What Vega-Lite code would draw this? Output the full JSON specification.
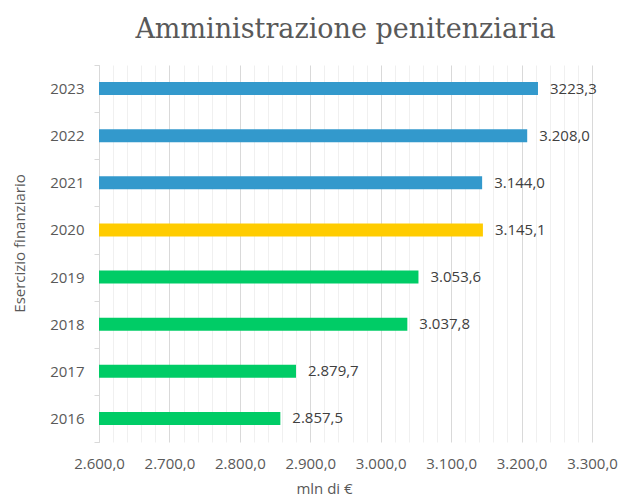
{
  "$schema": "https://vega.github.io/schema/vega-lite/v6.json",
  "width": 493,
  "height": 377,
  "autosize": "none",
  "padding": {"left": 99, "top": 65, "right": 27, "bottom": 60},
  "background": "white",
  "config": {
    "locale": {"number": {"decimal": ",", "thousands": ".", "grouping": [3], "currency": ["", " €"]}},
    "view": {"stroke": null},
    "font": "Open Sans"
  },
  "title": {
    "text": "Amministrazione penitenziaria",
    "font": "DejaVu Serif",
    "fontSize": 27,
    "fontWeight": "normal",
    "color": "#595959",
    "offset": 14,
    "anchor": "middle"
  },
  "data": {
    "values": [
      {"anno": "2016", "valore": 2857.5, "label": "2.857,5", "gruppo": "a"},
      {"anno": "2017", "valore": 2879.7, "label": "2.879,7", "gruppo": "a"},
      {"anno": "2018", "valore": 3037.8, "label": "3.037,8", "gruppo": "a"},
      {"anno": "2019", "valore": 3053.6, "label": "3.053,6", "gruppo": "a"},
      {"anno": "2020", "valore": 3145.1, "label": "3.145,1", "gruppo": "b"},
      {"anno": "2021", "valore": 3144.0, "label": "3.144,0", "gruppo": "c"},
      {"anno": "2022", "valore": 3208.0, "label": "3.208,0", "gruppo": "c"},
      {"anno": "2023", "valore": 3223.3, "label": "3223,3", "gruppo": "c"}
    ]
  },
  "encoding": {
    "y": {
      "field": "anno",
      "type": "ordinal",
      "sort": "descending",
      "scale": {"paddingInner": 0, "paddingOuter": 0},
      "axis": {
        "title": "Esercizio finanziario",
        "titleFont": "Open Sans",
        "titleFontSize": 15,
        "titleFontWeight": "normal",
        "titleColor": "#595959",
        "titlePadding": 22,
        "titleY": 178,
        "labelFont": "Open Sans",
        "labelFontSize": 15,
        "labelColor": "#595959",
        "labelPadding": 10,
        "tickSize": 5,
        "tickBand": "extent",
        "tickColor": "#d9d9d9",
        "domainColor": "#d9d9d9",
        "grid": false
      }
    },
    "x": {
      "field": "valore",
      "type": "quantitative",
      "scale": {"domain": [2600, 3300], "nice": false, "zero": false},
      "axis": {
        "title": "mln di €",
        "titleFont": "Open Sans",
        "titleFontSize": 15,
        "titleFontWeight": "normal",
        "titleColor": "#595959",
        "titlePadding": 10,
        "titleX": 225,
        "values": [2600, 2620, 2640, 2660, 2680, 2700, 2720, 2740, 2760, 2780, 2800, 2820, 2840, 2860, 2880, 2900, 2920, 2940, 2960, 2980, 3000, 3020, 3040, 3060, 3080, 3100, 3120, 3140, 3160, 3180, 3200, 3220, 3240, 3260, 3280, 3300],
        "labelExpr": "datum.value % 100 === 0 ? format(datum.value, ',.1f') : ''",
        "labelOverlap": false,
        "labelFlush": false,
        "labelFont": "Open Sans",
        "labelFontSize": 15,
        "labelColor": "#595959",
        "labelPadding": 14,
        "ticks": false,
        "domain": false,
        "grid": true,
        "gridColor": {"condition": {"test": "datum.value % 100 === 0", "value": "#d9d9d9"}, "value": "#f0f0f0"}
      }
    }
  },
  "layer": [
    {
      "mark": {"type": "bar", "size": 13, "clip": true},
      "encoding": {
        "color": {
          "field": "gruppo",
          "type": "nominal",
          "scale": {"domain": ["a", "b", "c"], "range": ["#00CC66", "#FFCC00", "#3399CC"]},
          "legend": null
        }
      }
    },
    {
      "mark": {"type": "text", "align": "left", "baseline": "middle", "dx": 12, "font": "Open Sans", "fontSize": 15, "color": "#404040"},
      "encoding": {"text": {"field": "label"}}
    }
  ]
}
